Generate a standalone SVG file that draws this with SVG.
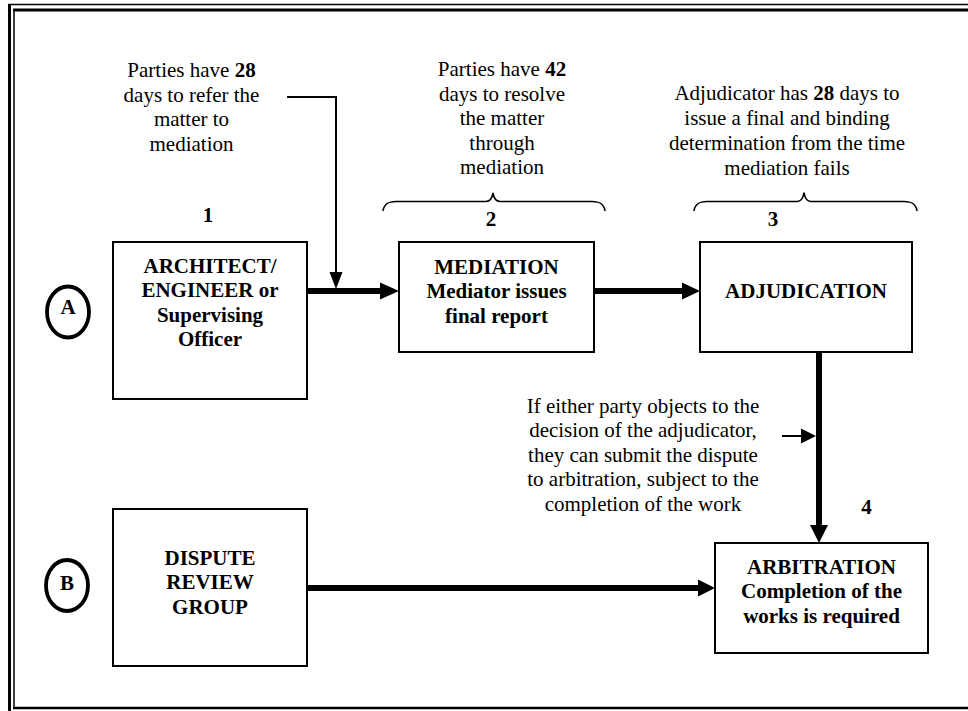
<svg xmlns="http://www.w3.org/2000/svg" width="968" height="711" viewBox="0 0 968 711" font-family="'Liberation Serif', 'Times New Roman', 'DejaVu Serif', serif">
<style>
.t{font-family:"Liberation Serif","Times New Roman","DejaVu Serif",serif;font-size:21px;fill:#000;text-anchor:middle}
.b{font-weight:bold}
.box{fill:#fff;stroke:#000;stroke-width:2}
.thick{stroke:#000;stroke-width:6;fill:none}
.thin{stroke:#000;stroke-width:2;fill:none}
.head{fill:#000}
.ring{fill:none;stroke:#000;stroke-width:3.8}
.brace{fill:none;stroke:#000;stroke-width:1.6}
</style>
<rect width="968" height="711" fill="#fff"/>
<g id="frame">
<line x1="8" y1="4.5" x2="968" y2="4.5" stroke="#000" stroke-width="1.5"/>
<line x1="9.5" y1="4" x2="9.5" y2="711" stroke="#000" stroke-width="3"/>
<line x1="13" y1="10" x2="968" y2="10" stroke="#000" stroke-width="3"/>
<line x1="14" y1="10" x2="14" y2="709" stroke="#000" stroke-width="1.5"/>
<line x1="13" y1="708" x2="968" y2="708" stroke="#000" stroke-width="2.5"/>
</g>
<g id="connectors">
<path class="thin" d="M287,97 H336 V274"/>
<polygon class="head" points="329.5,272 342.5,272 336,289"/>
<line class="thick" x1="307" y1="291" x2="382" y2="291"/>
<polygon class="head" points="380,282.5 399,291 380,299.5"/>
<line class="thick" x1="594" y1="291" x2="684" y2="291"/>
<polygon class="head" points="682,282.5 700,291 682,299.5"/>
<line class="thick" x1="819" y1="349" x2="819" y2="527"/>
<polygon class="head" points="810,525 828,525 819,543"/>
<line class="thin" x1="782" y1="436" x2="803" y2="436"/>
<polygon class="head" points="801,428.5 816,436 801,443.5"/>
<line class="thick" x1="307" y1="588" x2="700" y2="588"/>
<polygon class="head" points="698,579.5 715,588 698,596.5"/>
</g>
<g id="note1">
<text class="t" x="191.5" y="77">Parties have <tspan class="b">28</tspan></text>
<text class="t" x="191.5" y="101.5">days to refer the</text>
<text class="t" x="191.5" y="126">matter to</text>
<text class="t" x="191.5" y="150.5">mediation</text>
</g>
<g id="note2">
<text class="t" x="502" y="76">Parties have <tspan class="b">42</tspan></text>
<text class="t" x="502" y="100.5">days to resolve</text>
<text class="t" x="502" y="125">the matter</text>
<text class="t" x="502" y="149.5">through</text>
<text class="t" x="502" y="174">mediation</text>
<path class="brace" d="M383,211 C384,204 388,201.5 396,201.5 H486 C490,201.5 492,199 493,193 C494,199 496,201.5 500,201.5 H592 C600,201.5 604,204 605,211"/>
</g>
<g id="note3">
<text class="t" x="787" y="100">Adjudicator has <tspan class="b">28</tspan> days to</text>
<text class="t" x="787" y="125">issue a final and binding</text>
<text class="t" x="787" y="150">determination from the time</text>
<text class="t" x="787" y="174.5">mediation fails</text>
<path class="brace" d="M694,211 C695,204 699,201.5 707,201.5 H797 C801,201.5 803,199 804,192.5 C805,199 807,201.5 811,201.5 H904 C912,201.5 916,204 917,211"/>
</g>
<g id="num1"><text class="t b" x="208" y="222">1</text></g>
<g id="num2"><text class="t b" x="491" y="226">2</text></g>
<g id="num3"><text class="t b" x="773" y="226">3</text></g>
<g id="num4"><text class="t b" x="866.5" y="514">4</text></g>
<g id="circleA">
<ellipse class="ring" cx="68" cy="312" rx="21" ry="25.5"/>
<text class="t b" x="68" y="314">A</text>
</g>
<g id="circleB">
<ellipse class="ring" cx="67" cy="585.5" rx="21" ry="25.5"/>
<text class="t b" x="67" y="590">B</text>
</g>
<g id="architect">
<rect class="box" x="113" y="242" width="194" height="157"/>
<text class="t b" x="210" y="273">ARCHITECT/</text>
<text class="t b" x="210" y="297">ENGINEER or</text>
<text class="t b" x="210" y="321.5">Supervising</text>
<text class="t b" x="210" y="346">Officer</text>
</g>
<g id="mediation">
<rect class="box" x="399" y="242" width="195" height="110"/>
<text class="t b" x="496.5" y="273.5">MEDIATION</text>
<text class="t b" x="496.5" y="298">Mediator issues</text>
<text class="t b" x="496.5" y="322.5">final report</text>
</g>
<g id="adjudication">
<rect class="box" x="700" y="242" width="212" height="110"/>
<text class="t b" x="806" y="298">ADJUDICATION</text>
</g>
<g id="objection-note">
<text class="t" x="643" y="413">If either party objects to the</text>
<text class="t" x="643" y="437">decision of the adjudicator,</text>
<text class="t" x="643" y="461.5">they can submit the dispute</text>
<text class="t" x="643" y="486">to arbitration, subject to the</text>
<text class="t" x="643" y="510.5">completion of the work</text>
</g>
<g id="dispute-review">
<rect class="box" x="113" y="509" width="194" height="157"/>
<text class="t b" x="210" y="565">DISPUTE</text>
<text class="t b" x="210" y="589">REVIEW</text>
<text class="t b" x="210" y="613.5">GROUP</text>
</g>
<g id="arbitration">
<rect class="box" x="715" y="543" width="213" height="110"/>
<text class="t b" x="821.5" y="573.5">ARBITRATION</text>
<text class="t b" x="821.5" y="598">Completion of the</text>
<text class="t b" x="821.5" y="622.5">works is required</text>
</g>
</svg>
